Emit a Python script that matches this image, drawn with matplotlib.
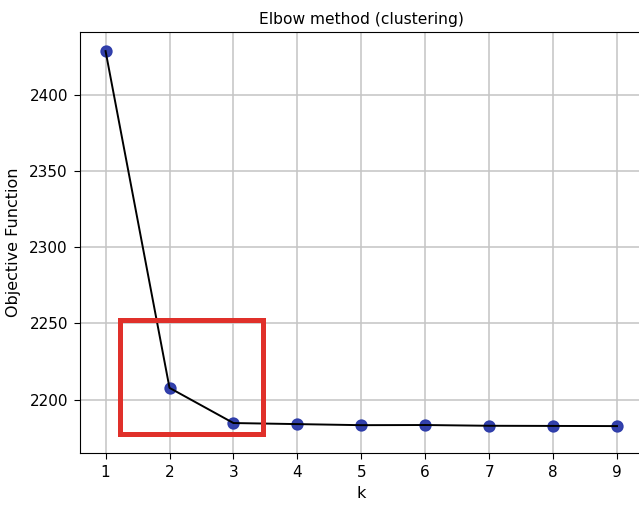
import matplotlib
matplotlib.use('Agg')
import matplotlib.pyplot as plt
from matplotlib.patches import Rectangle

k = [1, 2, 3, 4, 5, 6, 7, 8, 9]
objective = [2428.9, 2207.7, 2184.6, 2183.9, 2183.2, 2183.3, 2182.8, 2182.7, 2182.6]

# highlighted elbow region (data coords)
box_x = [1.22, 3.46]
box_y = [2177.5, 2252.0]

plt.rcParams['font.size'] = 11

fig = plt.figure(figsize=(6.39, 5.05), dpi=100)
ax = fig.add_axes([0.1252, 0.103, 0.8804, 0.8337])

ax.scatter(k, objective, s=62, color=(0.16, 0.22, 0.66), alpha=0.95, zorder=3)
ax.plot(k, objective, color='black', linewidth=1.4, zorder=4)
ax.grid(True, color='#c4c4c4', linewidth=1.1)
ax.set_axisbelow(True)

ax.add_patch(Rectangle((box_x[0], box_y[0]), box_x[1] - box_x[0], box_y[1] - box_y[0],
                       fill=False, edgecolor='#e0302a', linewidth=3.6, zorder=5))

ax.set_xticks(k)
ax.set_yticks([2200, 2250, 2300, 2350, 2400])
ax.tick_params(labelsize=11, length=4.5, pad=4.2)
ax.set_xlabel('k', fontsize=11.5)
ax.set_ylabel('Objective Function', fontsize=11.5, labelpad=6)
ax.set_title('Elbow method (clustering)', fontsize=11.2)

fig.savefig('out.png', dpi=100)
